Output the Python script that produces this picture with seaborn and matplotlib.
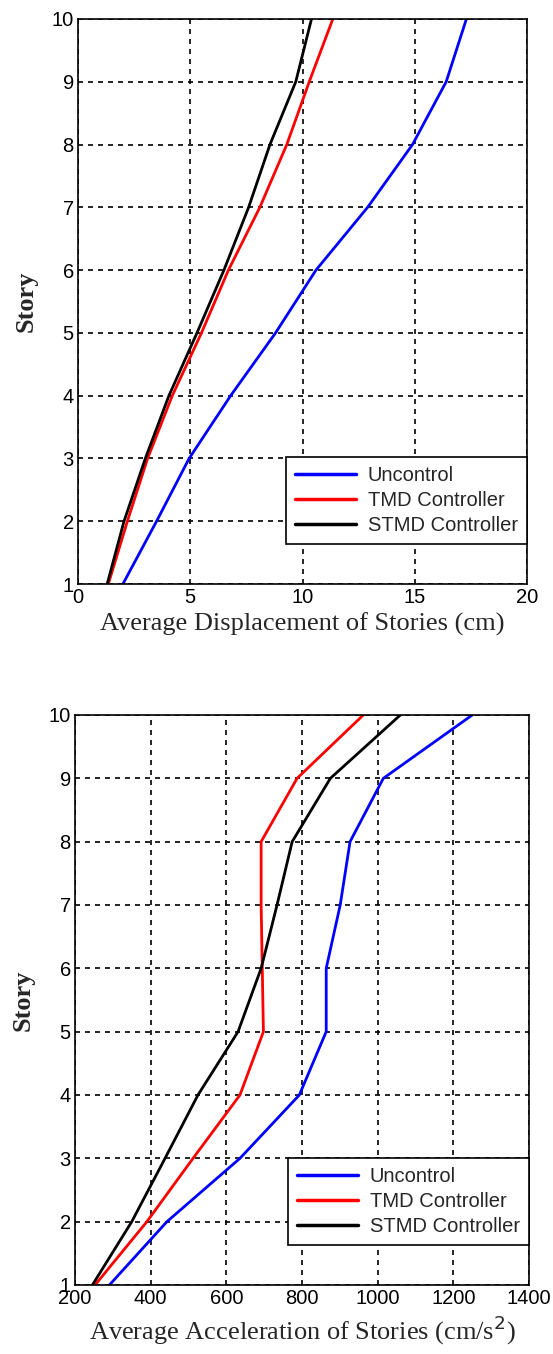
import matplotlib
matplotlib.use("Agg")
import matplotlib.pyplot as plt
import numpy as np
import pandas as pd
import seaborn as sns

stories = [1, 2, 3, 4, 5, 6, 7, 8, 9, 10]
series_names = ["Uncontrol", "TMD Controller", "STMD Controller"]

# average displacement (cm)
disp_uncontrol = [2.0, 3.5, 4.95, 6.8, 8.8, 10.6, 12.9, 14.9, 16.4, 17.3]
disp_tmd = [1.35, 2.2, 3.1, 4.2, 5.5, 6.7, 8.1, 9.3, 10.3, 11.35]
disp_stmd = [1.3, 2.05, 3.0, 4.05, 5.3, 6.5, 7.6, 8.55, 9.7, 10.4]

# average acceleration (cm/s^2)
acc_uncontrol = [291, 443, 636, 793, 864, 864, 901, 927, 1015, 1250]
acc_tmd = [253, 390, 512, 636, 698, 695, 692, 692, 787, 962]
acc_stmd = [246, 350, 438, 525, 631, 692, 734, 774, 875, 1060]

colors = ["#0000ff", "#ff0000", "#000000"]


def to_long(values):
    frames = []
    for name, vals in zip(series_names, values):
        frames.append(pd.DataFrame({"story": stories, "value": vals, "series": name}))
    return pd.concat(frames, ignore_index=True)


df_disp = to_long([disp_uncontrol, disp_tmd, disp_stmd])
df_acc = to_long([acc_uncontrol, acc_tmd, acc_stmd])

sns.set_style("white")
plt.rcParams["font.family"] = ["Liberation Sans", "DejaVu Sans"]
serif = ["Liberation Serif", "DejaVu Serif"]

fig = plt.figure(figsize=(5.53, 13.54), dpi=100)
W, H = 553, 1354
ax1 = fig.add_axes([78 / W, 1 - 584 / H, (527 - 78) / W, (584 - 19) / H])
ax2 = fig.add_axes([75 / W, 1 - 1285 / H, (529 - 75) / W, (1285 - 715) / H])


def style_axis(ax, df, xlim, xticks, xlabel):
    sns.lineplot(data=df, x="value", y="story", hue="series", palette=colors,
                 sort=False, estimator=None, orient="y", linewidth=2.0, ax=ax)
    ax.set_xlim(*xlim)
    ax.set_ylim(1, 10)
    ax.set_xticks(xticks)
    ax.set_yticks(stories)
    ax.tick_params(axis="both", labelsize=14.5, direction="in", length=4,
                   colors="black", pad=3)
    ax.grid(True, color="black", linestyle=(0, (3, 3)), linewidth=1.2)
    for sp in ax.spines.values():
        sp.set_color("black")
        sp.set_linewidth(1.2)
    ax.set_xlabel(xlabel, fontsize=19, family=serif, labelpad=4)
    ax.set_ylabel("Story", fontsize=19, fontweight="bold", family=serif,
                  labelpad=10)
    leg = ax.legend(loc="lower right", fontsize=14.5, frameon=True, fancybox=False,
                    edgecolor="black", framealpha=1, borderaxespad=0.0,
                    handlelength=3.0, handletextpad=0.6, borderpad=0.45,
                    labelspacing=0.3, bbox_to_anchor=(1.0, 0.07))
    leg.get_frame().set_linewidth(1.2)
    for line in leg.get_lines():
        line.set_linewidth(2.5)


style_axis(ax1, df_disp, (0, 20), [0, 5, 10, 15, 20],
           "Average Displacement of Stories (cm)")
style_axis(ax2, df_acc, (200, 1400), [200, 400, 600, 800, 1000, 1200, 1400],
           "Average Acceleration of Stories (cm/s$^2$)")

fig.savefig("out.png", dpi=100)
